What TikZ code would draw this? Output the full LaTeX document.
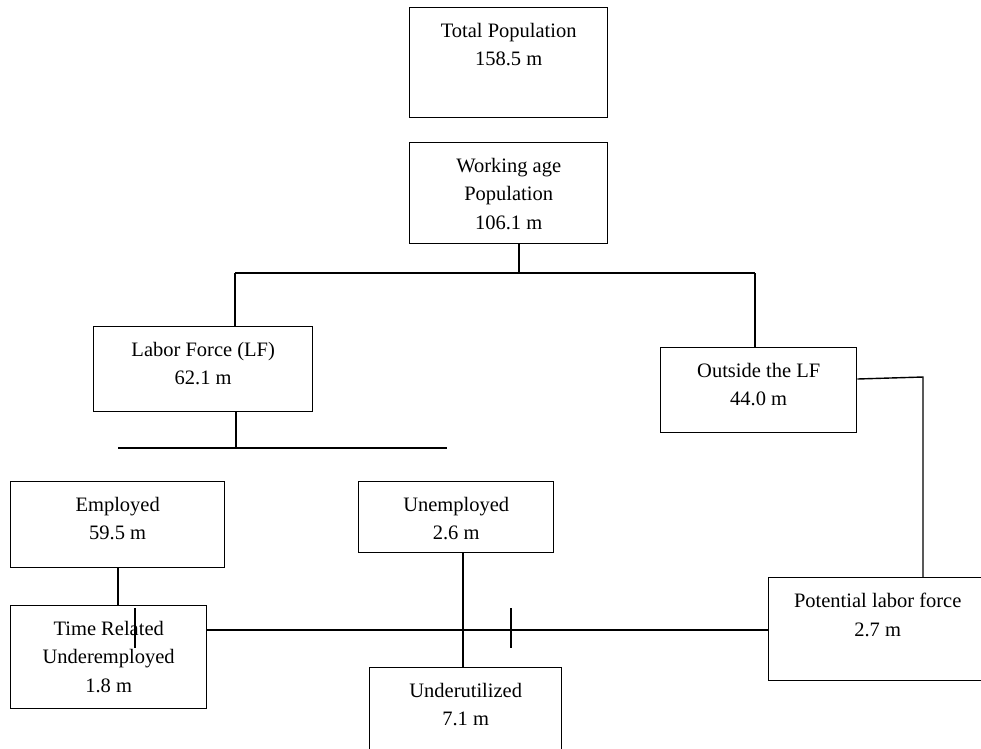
\documentclass[tikz,border=0pt]{standalone}
\usepackage{fontspec}
\setmainfont{Liberation Serif}
\usetikzlibrary{calc}
\begin{document}
\begin{tikzpicture}[x=1pt,y=-1pt,
  box/.style={draw,line width=1.4pt,inner sep=0pt,anchor=north west},
  lbl/.style={anchor=north,inner sep=0pt,align=center,font=\fontsize{20.5}{28.5}\selectfont},
  conn/.style={line width=1.4pt}]
\clip (0,0) rectangle (981,748);
\fill[white] (0,0) rectangle (981,748);
% boxes
\node[box,minimum width=198pt,minimum height=110pt] (tot) at (409,7) {};
\node[lbl] (totT) at ($(tot.north)+(0,16)$) {Total Population\\158.5 m};
\node[box,minimum width=198pt,minimum height=101pt] (work) at (409,142) {};
\node[lbl] (workT) at ($(work.north)+(0,16)$) {Working age\\Population\\106.1 m};
\node[box,minimum width=219pt,minimum height=85pt] (lf) at (93,326) {};
\node[lbl] (lfT) at ($(lf.north)+(0,16)$) {Labor Force (LF)\\62.1 m};
\node[box,minimum width=196pt,minimum height=85pt] (out) at (660,347) {};
\node[lbl] (outT) at ($(out.north)+(0,16)$) {Outside the LF\\44.0 m};
\node[box,minimum width=214pt,minimum height=86pt] (emp) at (10,481) {};
\node[lbl] (empT) at ($(emp.north)+(0,16)$) {Employed\\59.5 m};
\node[box,minimum width=195pt,minimum height=71pt] (unemp) at (358,481) {};
\node[lbl] (unempT) at ($(unemp.north)+(0,16)$) {Unemployed\\2.6 m};
\node[box,minimum width=196pt,minimum height=103pt] (time) at (10,605) {};
\node[lbl] (timeT) at ($(time.north)+(0,16)$) {Time Related\\Underemployed\\1.8 m};
\node[box,minimum width=192pt,minimum height=100pt] (und) at (369,667) {};
\node[lbl] (undT) at ($(und.north)+(0,16)$) {Underutilized\\7.1 m};
\node[box,minimum width=218pt,minimum height=103pt] (pot) at (768,577) {};
\node[lbl] (potT) at ($(pot.north)+(0,16)$) {Potential labor force\\2.7 m};
% connectors
\coordinate (busL) at (235,273);
\coordinate (busR) at (755,273);
\coordinate (wA) at ($(work.south west)+(110,0)$);
\draw[conn] (wA) -- (wA |- busL);
\draw[conn] (busL) -- (busR);
\draw[conn] (busL) -- (busL |- lf.north);
\draw[conn] (busR) -- (busR |- out.north);
\coordinate (lfb) at (236,448);
\coordinate (b2L) at (118,448);
\coordinate (b2R) at (447,448);
\draw[conn] (lfb |- lf.south) -- (lfb);
\draw[conn] (b2L) -- (b2R);
\coordinate (oc) at (923,377);
\draw[conn] ($(out.north east)+(0,32)$) -- (oc) -- (oc |- pot.north);
\draw[conn] ($(emp.south west)+(108,0)$) -- ($(time.north west)+(108,0)$);
\draw[conn] ($(time.north east)+(0,25)$) -- ($(pot.north west)+(0,53)$);
\draw[conn] ($(unemp.south west)+(105,0)$) -- ($(und.north west)+(94,0)$);
\coordinate (t1a) at (135,608);
\coordinate (t1b) at (135,648);
\coordinate (t2a) at (511,608);
\coordinate (t2b) at (511,648);
\draw[conn] (t1a) -- (t1b);
\draw[conn] (t2a) -- (t2b);
\end{tikzpicture}
\end{document}
